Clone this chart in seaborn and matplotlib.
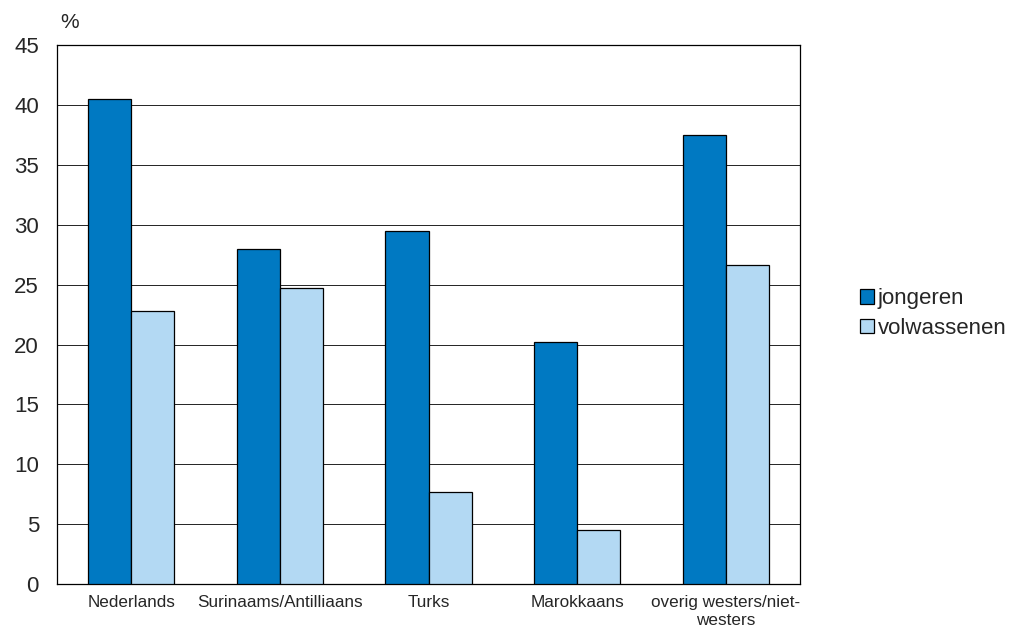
import matplotlib.pyplot as plt
import pandas as pd
import seaborn as sns

# Data
categories = ['Nederlands', 'Surinaams/Antilliaans', 'Turks', 'Marokkaans',
              'overig westers/niet-\nwesters']
jongeren = [40.5, 28.0, 29.5, 20.2, 37.5]
volwassenen = [22.8, 24.7, 7.7, 4.5, 26.6]
groups = ['jongeren', 'volwassenen']
colors = ['#0079C2', '#B3D9F3']

df = pd.DataFrame({
    'categorie': categories * 2,
    'groep': [groups[0]] * len(categories) + [groups[1]] * len(categories),
    'waarde': jongeren + volwassenen,
})

sns.set_style('white')
plt.rcParams['font.family'] = ['Liberation Sans', 'DejaVu Sans']

fig = plt.figure(figsize=(10.18, 6.33), dpi=100)
ax = fig.add_axes([0.056, 0.077, 0.73, 0.852])

sns.barplot(data=df, x='categorie', y='waarde', hue='groep', palette=colors,
            width=0.58, edgecolor='black', linewidth=0.9, saturation=1,
            ax=ax, zorder=3)

ax.set_ylim(0, 45)
ax.set_yticks(range(0, 46, 5))
ax.yaxis.grid(True, color='black', linewidth=0.6, zorder=0)
ax.set_axisbelow(True)
ax.set_xlabel('')
ax.set_ylabel('')
ax.tick_params(axis='y', labelsize=16, length=0, pad=13)
ax.tick_params(axis='x', labelsize=12.3, length=0, pad=8)
for s in ax.spines.values():
    s.set_color('black')
    s.set_linewidth(0.9)

ax.text(0.004, 1.024, '%', transform=ax.transAxes, fontsize=15, ha='left',
        va='bottom')

handles, labels = ax.get_legend_handles_labels()
ax.get_legend().remove()
fig.legend(handles, labels, loc='center left', bbox_to_anchor=(0.836, 0.505),
           frameon=False, fontsize=16, handlelength=0.65, handleheight=0.65,
           handletextpad=0.15, labelspacing=0.4, borderaxespad=0)

fig.savefig('out.png', dpi=100)
